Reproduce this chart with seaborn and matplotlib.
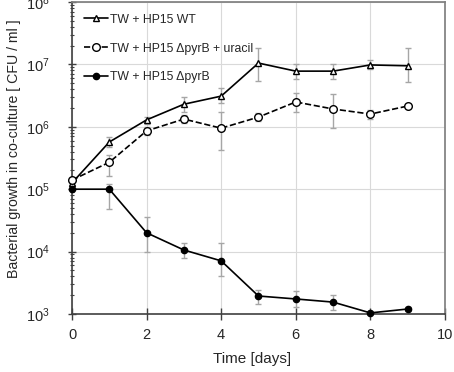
import numpy as np
import pandas as pd
import matplotlib
matplotlib.use("Agg")
import matplotlib.pyplot as plt
import matplotlib as mpl
import seaborn as sns

# data (means, lower and upper error bar ends)
days = [0, 1, 2, 3, 4, 5, 6, 7, 8, 9]

wt_mean = [1.26e5, 5.7e5, 1.29e6, 2.3e6, 3.1e6, 1.05e7, 7.8e6, 7.8e6, 9.8e6, 9.5e6]
wt_lo = [1.15e5, 4.7e5, 1.1e6, 1.7e6, 2.4e6, 5.4e6, 5.8e6, 5.8e6, 8.4e6, 5.2e6]
wt_hi = [1.38e5, 6.9e5, 1.43e6, 3.0e6, 4.2e6, 1.83e7, 1.0e7, 1.0e7, 1.17e7, 1.83e7]

ura_mean = [1.4e5, 2.7e5, 8.6e5, 1.33e6, 9.5e5, 1.43e6, 2.5e6, 1.93e6, 1.6e6, 2.15e6]
ura_lo = [1.3e5, 1.6e5, 7.4e5, 1.15e6, 4.2e5, 1.25e6, 1.7e6, 9.5e5, 1.35e6, 2.0e6]
ura_hi = [1.5e5, 3.5e5, 1.0e6, 1.55e6, 1.7e6, 1.65e6, 3.5e6, 3.4e6, 1.85e6, 2.3e6]

pyr_mean = [1.0e5, 1.0e5, 2.0e4, 1.06e4, 7.1e3, 1.94e3, 1.74e3, 1.55e3, 1.04e3, 1.2e3]
pyr_lo = [1.0e5, 4.8e4, 1.0e4, 7.9e3, 4.1e3, 1.45e3, 1.3e3, 1.17e3, 1.0e3, 1.1e3]
pyr_hi = [1.0e5, 1.2e5, 3.6e4, 1.37e4, 1.37e4, 2.4e3, 2.3e3, 2.0e3, 1.08e3, 1.3e3]

labels = ['TW + HP15 WT', 'TW + HP15 \u0394pyrB + uracil', 'TW + HP15 \u0394pyrB']

sns.set_theme(style='whitegrid')
mpl.rcParams.update({
    'font.family': ['Liberation Sans', 'DejaVu Sans'],
    'font.size': 10,
    'mathtext.fontset': 'custom',
    'mathtext.rm': 'Liberation Sans',
    'mathtext.it': 'Liberation Sans:italic',
    'mathtext.bf': 'Liberation Sans:bold',
    'axes.edgecolor': '#808080',
    'grid.color': '#d9d9d9',
    'grid.linewidth': 0.8,
})

fig = plt.figure(figsize=(4.54, 3.72), dpi=100)
ax = fig.add_axes([0.1586, 0.156, 0.8214, 0.8386])

ERR_C = '#a6a6a6'
series = [
    (wt_mean, wt_lo, wt_hi, '^', 'white', '-', 5),
    (ura_mean, ura_lo, ura_hi, 'o', 'white', '--', 5.5),
    (pyr_mean, pyr_lo, pyr_hi, 'o', 'black', '-', 4.5),
]

for (m, lo, hi, mk, fc, ls, ms), lab in zip(series, labels):
    m_arr = np.array(m)
    yerr = [m_arr - np.array(lo), np.array(hi) - m_arr]
    ax.errorbar(days, m, yerr=yerr, fmt='none', ecolor=ERR_C, elinewidth=1.0,
                capsize=2.5, capthick=1.0, zorder=2)
    df = pd.DataFrame({'day': days, 'cfu': m})
    sns.lineplot(data=df, x='day', y='cfu', ax=ax, color='black', linestyle=ls,
                 linewidth=1.2, marker=mk, markersize=ms, markerfacecolor=fc,
                 markeredgecolor='black', markeredgewidth=1.0, label=lab,
                 zorder=3, clip_on=False)

ax.set_yscale('log')
ax.set_ylim(1e3, 1e8)
ax.set_xlim(0, 10)
ax.set_xticks([0, 2, 4, 6, 8, 10])
ax.set_yticks([1e3, 1e4, 1e5, 1e6, 1e7, 1e8])
ax.set_yticklabels([r'$10^{%d}$' % k for k in range(3, 9)])
ax.yaxis.set_minor_locator(mpl.ticker.LogLocator(base=10, subs=np.arange(2, 10)))
ax.yaxis.set_minor_formatter(mpl.ticker.NullFormatter())
ax.grid(True, which='major')
ax.grid(False, which='minor')

ax.spines['left'].set_color('#404040')
ax.spines['bottom'].set_color('#404040')
ax.spines['left'].set_linewidth(1.2)
ax.spines['bottom'].set_linewidth(1.2)
ax.spines['top'].set_color('#808080')
ax.spines['right'].set_color('#808080')
ax.tick_params(axis='x', which='major', direction='inout', length=8, width=1.0,
               color='#404040', bottom=True, labelsize=10.5, pad=6)
ax.tick_params(axis='y', which='major', direction='inout', length=6, width=1.0,
               color='#404040', left=True, labelsize=10.5, pad=13)
ax.tick_params(axis='y', which='minor', direction='inout', length=3, width=0.8,
               color='#404040', left=True)

ax.set_xlabel('Time [days]', fontsize=11)
ax.xaxis.set_label_coords(0.482, -0.122)
ax.set_ylabel('Bacterial growth in co-culture [ CFU / ml ]', fontsize=10.2)
ax.yaxis.set_label_coords(-0.137, 0.53)

ax.legend(loc='upper left', frameon=False, fontsize=8.8, handlelength=1.9,
          labelspacing=1.38, handletextpad=0.2, borderaxespad=0.0,
          bbox_to_anchor=(0.02, 0.978))

fig.savefig('out.png', dpi=100)
